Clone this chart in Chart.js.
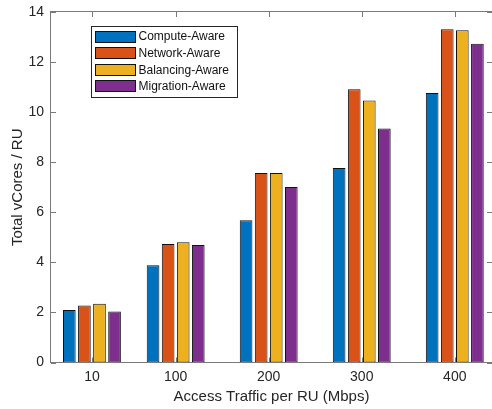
<!DOCTYPE html>
<html><head><meta charset="utf-8">
<script src="https://cdn.jsdelivr.net/npm/chart.js@4/dist/chart.umd.min.js"></script>
<style>html,body{margin:0;padding:0;background:#fff;}canvas{display:block;}</style>
</head><body>
<canvas id="c" width="492" height="409"></canvas>
<script>
const categories = [10, 100, 200, 300, 400];
const seriesNames = ['Compute-Aware', 'Network-Aware', 'Balancing-Aware', 'Migration-Aware'];
const computeAware   = [2.10, 3.88, 5.68, 7.77, 10.76];
const networkAware   = [2.28, 4.73, 7.57, 10.91, 13.31];
const balancingAware = [2.35, 4.80, 7.57, 10.47, 13.27];
const migrationAware = [2.04, 4.69, 7.01, 9.35, 12.73];
const yTickValues = [0, 2, 4, 6, 8, 10, 12, 14];
const xTickValues = categories;
const xLabel = 'Access Traffic per RU (Mbps)';
const yLabel = 'Total vCores / RU';

const seriesValues = [computeAware, networkAware, balancingAware, migrationAware];
const colors = ['#0072BD', '#D95319', '#EDB120', '#7E2F8E'];
const textColor = '#262626';
const axisColor = '#7a7a7a';

const datasets = seriesNames.map((name, i) => ({
  label: name,
  data: categories.map((c, j) => ({ x: c, y: seriesValues[i][j] })),
  backgroundColor: colors[i],
  borderColor: '#111',
  borderWidth: 1,
  borderSkipped: false,
  categoryPercentage: 0.72,
  barPercentage: 0.84
}));

const framePlugin = {
  id: 'frame',
  beforeDatasetsDraw(chart) {
    const { ctx, chartArea: a, scales: { x, y } } = chart;
    ctx.save();
    ctx.strokeStyle = axisColor;
    ctx.lineWidth = 1;
    ctx.beginPath();
    x.ticks.forEach(t => {
      const px = Math.round(x.getPixelForValue(t.value)) + 0.5;
      ctx.moveTo(px, a.bottom); ctx.lineTo(px, a.bottom - 5);
      ctx.moveTo(px, a.top); ctx.lineTo(px, a.top + 5);
    });
    y.ticks.forEach(t => {
      const py = Math.round(y.getPixelForValue(t.value)) + 0.5;
      ctx.moveTo(a.left, py); ctx.lineTo(a.left + 5, py);
      ctx.moveTo(a.right, py); ctx.lineTo(a.right - 5, py);
    });
    ctx.stroke();
    ctx.restore();
  },
  afterDatasetsDraw(chart) {
    const { ctx, chartArea: a } = chart;
    ctx.save();
    ctx.strokeStyle = axisColor;
    ctx.lineWidth = 1;
    const l = Math.round(a.left) - 0.5, r = Math.round(a.right) + 0.5;
    const t = Math.round(a.top) - 0.5, b = Math.round(a.bottom) - 0.5;
    ctx.strokeRect(l, t, r - l, b - t);
    ctx.restore();
  },
  afterDraw(chart) {
    const { ctx, chartArea: a } = chart;
    const bx = a.left + 39.5, by = a.top + 14, bw = 146, bh = 71;
    ctx.save();
    ctx.fillStyle = '#fff';
    ctx.fillRect(bx, by, bw, bh);
    ctx.strokeStyle = '#262626';
    ctx.lineWidth = 1;
    ctx.strokeRect(Math.round(bx) + 0.5, Math.round(by) + 0.5, bw, bh);
    ctx.font = '12px "Liberation Sans", Arial, sans-serif';
    ctx.textBaseline = 'middle';
    ctx.textAlign = 'left';
    chart.data.datasets.forEach((ds, i) => {
      const cy = by + 10.5 + i * 16.6;
      const sx = Math.round(bx) + 4, sy = Math.round(cy - 6);
      ctx.fillStyle = ds.backgroundColor;
      ctx.fillRect(sx, sy, 41, 12);
      ctx.strokeStyle = '#111';
      ctx.strokeRect(sx + 0.5, sy + 0.5, 40, 11);
      ctx.fillStyle = '#111';
      ctx.fillText(ds.label, sx + 43.5, cy + 0.5);
    });
    ctx.restore();
  }
};

new Chart(document.getElementById('c'), {
  type: 'bar',
  data: { datasets },
  options: {
    responsive: false,
    animation: false,
    devicePixelRatio: 1,
    layout: { padding: { top: 12, right: 0, left: 0, bottom: 0 } },
    plugins: { legend: { display: false }, tooltip: { enabled: false } },
    scales: {
      x: {
        type: 'linear',
        offset: false,
        min: -34,
        max: 440,
        grid: { display: false, drawTicks: false, offset: false },
        border: { display: false },
        afterBuildTicks: s => { s.ticks = xTickValues.map(v => ({ value: v })); },
        afterFit: s => { s.height = 46.5; s.paddingLeft = 0; s.paddingRight = 0; },
        ticks: {
          color: textColor,
          padding: 6,
          maxRotation: 0,
          autoSkip: false,
          font: { family: '"Liberation Sans", Arial, sans-serif', size: 14 },
          callback: v => String(v)
        },
        title: {
          display: true,
          text: xLabel,
          color: textColor,
          padding: { top: 0, bottom: 3 },
          font: { family: '"Liberation Sans", Arial, sans-serif', size: 15 }
        }
      },
      y: {
        min: 0,
        max: 14,
        grid: { display: false, drawTicks: false },
        border: { display: false },
        afterBuildTicks: s => { s.ticks = yTickValues.map(v => ({ value: v })); },
        afterFit: s => { s.width = 51; s.paddingTop = 0; s.paddingBottom = 0; },
        ticks: {
          color: textColor,
          padding: 7,
          font: { family: '"Liberation Sans", Arial, sans-serif', size: 14 },
          callback: v => String(v)
        },
        title: {
          display: true,
          text: yLabel,
          color: textColor,
          padding: { top: 9, bottom: 0 },
          font: { family: '"Liberation Sans", Arial, sans-serif', size: 15 }
        }
      }
    }
  },
  plugins: [framePlugin]
});
</script>
</body></html>
